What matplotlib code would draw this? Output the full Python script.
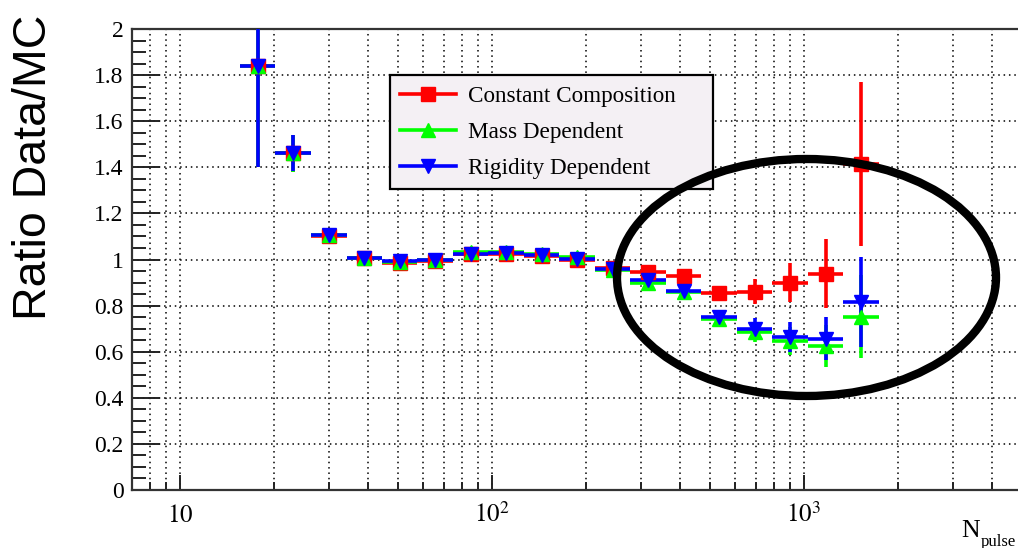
import numpy as np
import matplotlib.pyplot as plt
from matplotlib.lines import Line2D
from matplotlib.patches import Ellipse
from matplotlib.ticker import MultipleLocator, LogLocator, NullFormatter

plt.rcParams['mathtext.fontset'] = 'stix'

# bin edges in N_pulse (log spaced)
bin_edges = [15.6, 20.2, 26.3, 34.2, 44.4, 57.7, 75.0, 97.4, 126.6, 164.5,
             213.7, 277.7, 360.8, 469.0, 609.2, 791.8, 1029, 1337, 1737]

# ratio data/MC for the three composition models
ratio_const = [1.84, 1.46, 1.10, 1.005, 0.985, 0.995, 1.022, 1.023, 1.014, 1.000,
               0.962, 0.944, 0.928, 0.853, 0.860, 0.899, 0.939, 1.416]
err_const = [0.44, 0.08, 0.02, 0.012, 0.012, 0.012, 0.012, 0.012, 0.012, 0.012,
             0.015, 0.02, 0.02, 0.03, 0.055, 0.085, 0.148, 0.356]

ratio_mass = [1.84, 1.46, 1.105, 1.008, 0.990, 0.998, 1.032, 1.034, 1.025, 1.010,
              0.955, 0.900, 0.857, 0.744, 0.685, 0.647, 0.624, 0.751]
err_mass = [0.44, 0.08, 0.02, 0.012, 0.012, 0.012, 0.012, 0.012, 0.012, 0.012,
            0.015, 0.02, 0.025, 0.03, 0.045, 0.06, 0.09, 0.18]

ratio_rig = [1.84, 1.462, 1.105, 1.006, 0.993, 0.998, 1.026, 1.029, 1.019, 1.003,
             0.958, 0.910, 0.864, 0.751, 0.700, 0.662, 0.657, 0.816]
err_rig = [0.44, 0.08, 0.02, 0.012, 0.012, 0.012, 0.012, 0.012, 0.012, 0.012,
           0.015, 0.02, 0.025, 0.03, 0.045, 0.065, 0.095, 0.195]

labels = ['Constant Composition', 'Mass Dependent', 'Rigidity Dependent']
colors = ['#ff0000', '#00ff00', '#0000ff']
markers = ['s', '^', 'v']

edges = np.array(bin_edges)
x = np.sqrt(edges[:-1] * edges[1:])
xerr = [x - edges[:-1], edges[1:] - x]

W, H = 1018, 548
fig = plt.figure(figsize=(W / 100, H / 100), dpi=100)
ax = fig.add_axes([132 / W, 1 - 490 / H, 890 / W, 461 / H])

series = [(ratio_const, err_const), (ratio_mass, err_mass), (ratio_rig, err_rig)]
for (y, e), c, m in zip(series, colors, markers):
    ax.errorbar(x, y, yerr=e, xerr=xerr, fmt=m, color=c, mec=c, ms=9.5,
                elinewidth=2.6, capsize=0, zorder=3)

ax.set_xscale('log')
ax.set_xlim(7.02, 5000)
ax.set_ylim(0, 2)

ax.xaxis.set_major_locator(LogLocator(base=10, numticks=10))
ax.xaxis.set_minor_locator(LogLocator(base=10, subs=np.arange(2, 10), numticks=20))
ax.xaxis.set_minor_formatter(NullFormatter())
ax.set_xticks([10, 100, 1000])
ax.set_xticklabels([r'$10$', r'$10^{2}$', r'$10^{3}$'])
ax.yaxis.set_major_locator(MultipleLocator(0.2))
ax.yaxis.set_minor_locator(MultipleLocator(0.05))
ax.set_yticks(np.arange(0, 2.01, 0.2))
ax.set_yticklabels(['0', '0.2', '0.4', '0.6', '0.8', '1', '1.2', '1.4', '1.6', '1.8', '2'])

ax.tick_params(axis='both', which='both', direction='in', top=False, right=False,
               color='#222222', width=1.4)
ax.tick_params(axis='y', which='major', length=20, pad=6, labelsize=17,
               labelfontfamily='Liberation Serif')
ax.tick_params(axis='y', which='minor', length=10)
ax.tick_params(axis='x', which='major', length=11, pad=9, labelsize=18)
ax.tick_params(axis='x', which='minor', length=6)

ax.grid(which='both', axis='x', color='black', ls=(0, (1, 2.5)), lw=1.1)
ax.grid(which='major', axis='y', color='black', ls=(0, (1, 2.5)), lw=1.1)
ax.set_axisbelow(True)
for s in ax.spines.values():
    s.set_linewidth(1.6)
    s.set_color('#333333')

handles = [Line2D([], [], color=c, marker=m, ms=9.5, lw=2.6) for c, m in zip(colors, markers)]
leg = fig.legend(handles, labels, loc='upper left',
                 bbox_to_anchor=(390 / W, 1 - 186 / H, 323 / W, 111 / H), mode='expand',
                 borderaxespad=0, prop={'family': 'Liberation Serif', 'size': 16.7},
                 fancybox=False, framealpha=1, edgecolor='black', facecolor='#f4f0f4',
                 handlelength=2.4, labelspacing=0.64, borderpad=0.45, handletextpad=0.5)
leg.get_frame().set_linewidth(1.6)

fig.text(34 / W, 1 - 167 / H, 'Ratio Data/MC', rotation=90, ha='center', va='center',
         family='Liberation Sans', fontsize=33.5)
fig.text(961 / W, 1 - 537 / H, 'N', family='Liberation Serif', fontsize=18.5, ha='left', va='baseline')
fig.text(981 / W, 1 - 546 / H, 'pulse', family='Liberation Serif', fontsize=12, ha='left', va='baseline')

# highlight ellipse
fig.add_artist(Ellipse((806.5 / W, 1 - 277.5 / H), 379 / W, 237 / H, transform=fig.transFigure,
                       fill=False, ec='black', lw=6, zorder=10))

fig.savefig('out.png', dpi=100)
